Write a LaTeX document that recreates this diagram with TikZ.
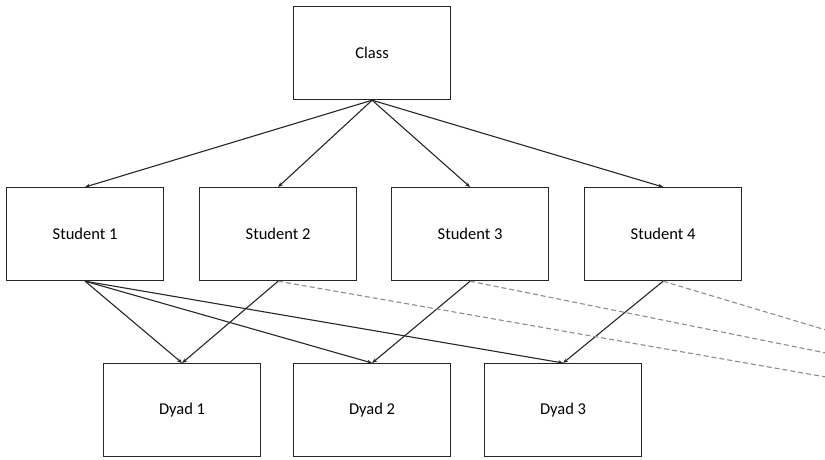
\documentclass[tikz,border=0pt]{standalone}
\usepackage{fontspec}
\setmainfont{Carlito}
\usetikzlibrary{arrows.meta}
\begin{document}
\begin{tikzpicture}[x=1pt,y=-1pt,
  box/.style={draw=black!85, line width=1.2pt, minimum width=157pt, minimum height=93pt, inner sep=0pt, font=\fontsize{16.5}{19}\selectfont, anchor=north west},
  arr/.style={line width=1.1pt, draw=black!85, -{Stealth[length=5pt,width=4pt]}},
  dsh/.style={line width=1.1pt, draw=black!45, dash pattern=on 5pt off 3pt}]
\useasboundingbox (0,0) rectangle (825,459);
\node[box] (class) at (293,6) {Class};
\node[box] (s1) at (6,187) {Student 1};
\node[box] (s2) at (199,187) {Student 2};
\node[box] (s3) at (391,187) {Student 3};
\node[box] (s4) at (584,187) {Student 4};
\node[box] (d1) at (103,363) {Dyad 1};
\node[box] (d2) at (293,363) {Dyad 2};
\node[box] (d3) at (484,363) {Dyad 3};
\coordinate (e2) at (826,377);
\coordinate (e3) at (826,353);
\coordinate (e4) at (826,330);
\foreach \s in {s1,s2,s3,s4}{\draw[arr] (class.south) -- (\s.north);}
\draw[arr] (s1.south) -- (d1.north);
\draw[arr] (s1.south) -- (d2.north);
\draw[arr] (s1.south) -- (d3.north);
\draw[arr] (s2.south) -- (d1.north);
\draw[arr] (s3.south) -- (d2.north);
\draw[arr] (s4.south) -- (d3.north);
\draw[dsh] (s2.south) -- (e2);
\draw[dsh] (s3.south) -- (e3);
\draw[dsh] (s4.south) -- (e4);
\end{tikzpicture}
\end{document}
